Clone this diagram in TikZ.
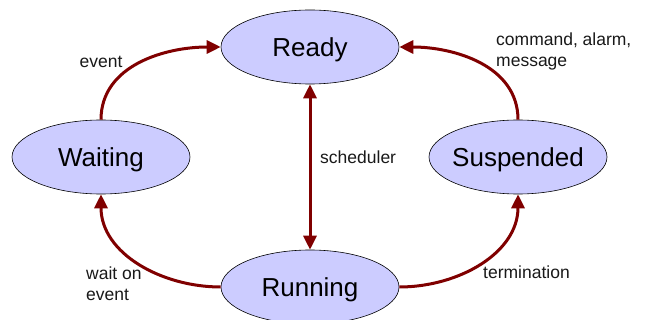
\documentclass[tikz,border=0pt]{standalone}
\usepackage{fontspec}
\setmainfont{Liberation Sans}
\usetikzlibrary{shapes.geometric,arrows.meta}
\definecolor{statefill}{RGB}{204,204,255}
\definecolor{edgered}{RGB}{128,0,0}
\begin{document}
\begin{tikzpicture}[x=1pt,y=-1pt,
  state/.style={ellipse,draw=black,line width=0.6pt,fill=statefill,
    minimum width=178pt,minimum height=74pt,inner sep=0pt,
    text height=18.6pt,text depth=0pt,
    font=\fontsize{26}{28}\selectfont},
  trans/.style={draw=edgered,line width=3pt,
    -{Triangle[length=14pt,width=13pt]}},
  lbl/.style={font=\fontsize{17.5}{21}\selectfont,text=black!90,
    align=left,inner sep=0pt}]
\useasboundingbox (0,0) rectangle (652,320);
\fill[white] (0,0) rectangle (652,320);

% states (long names kept inside the fixed ellipse size)
\node[state] (ready) at (310,47) {Ready};
\node[state] (waiting) at (101,157) {Waiting};
\node[state] (susp) at (518,157) {\makebox[0pt][c]{Suspended}};
\node[state] (run) at (310,287) {Running};

% transitions
\draw[trans] (waiting.north) to[out=90,in=180] (ready.west);
\draw[trans] (susp.north) to[out=90,in=0] (ready.east);
\draw[trans] (run.west) to[out=180,in=-90] (waiting.south);
\draw[trans] (run.east) to[out=0,in=-90] (susp.south);
\draw[trans,{Triangle[length=14pt,width=13pt]}-{Triangle[length=14pt,width=13pt]}]
  (ready.south) -- (run.north);

% labels
\node[lbl,anchor=center] (lev) at (101,62) {event};
\node[lbl,anchor=west] (lcmd) at (496,51) {command, alarm,\\message};
\node[lbl,anchor=west] (lsch) at (320,157) {scheduler};
\node[lbl,anchor=west] (lwait) at (86,284) {wait on\\event};
\node[lbl,anchor=west] (lterm) at (483,272) {termination};
\end{tikzpicture}
\end{document}
